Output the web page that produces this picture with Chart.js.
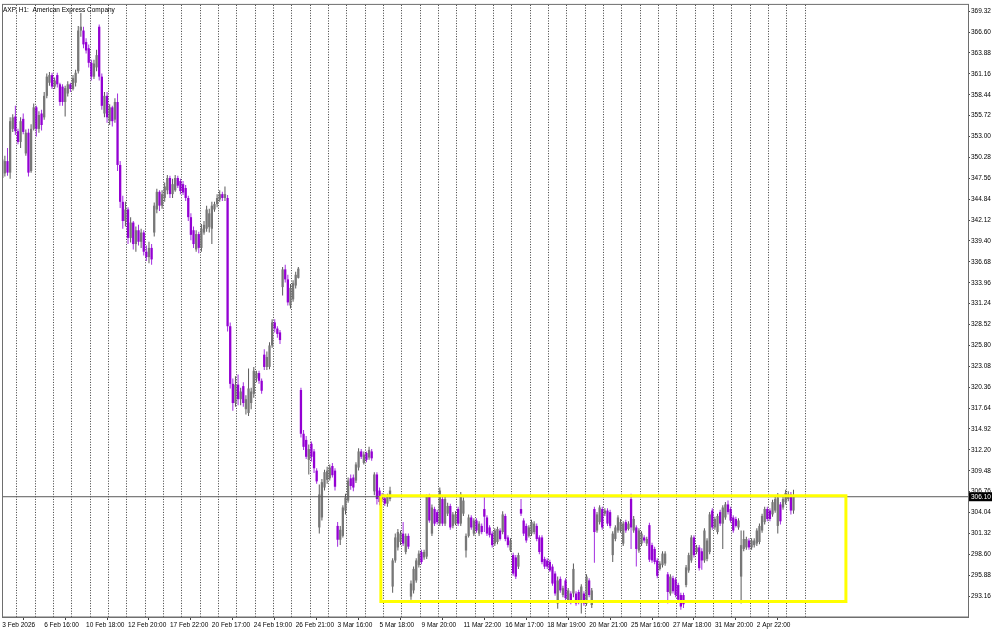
<!DOCTYPE html>
<html><head><meta charset="utf-8">
<script src="https://cdn.jsdelivr.net/npm/chart.js@4.4.1/dist/chart.umd.min.js"></script>
<style>html,body{margin:0;padding:0;background:#fff;overflow:hidden}canvas{display:block}</style>
</head><body>
<canvas id="c" width="1000" height="631"></canvas>
<script>
// ---- DATA (AXP, H1) ----
const opens = [
347.6,348.2,349.8,348.3,354.0,355.6,353.7,352.3,355.3,350.8,
353.5,348.5,354.0,356.8,354.0,356.0,355.5,358.3,360.0,361.0,
359.5,361.0,359.8,359.5,357.5,358.6,359.8,359.2,360.0,361.5,
366.8,366.8,365.3,364.5,362.6,360.8,362.0,367.3,360.8,356.0,
358.3,355.0,356.8,355.2,357.5,349.3,344.5,342.0,343.5,339.8,
341.8,339.0,340.8,339.3,340.5,338.0,337.3,338.5,340.5,343.5,
345.8,344.0,345.0,346.0,347.6,345.5,346.0,347.6,347.2,346.8,
346.3,345.0,342.5,340.8,338.3,340.3,338.5,340.5,341.0,341.2,
341.0,343.5,344.2,344.8,345.5,345.0,345.0,328.3,320.8,318.3,
320.7,318.8,320.5,317.5,317.0,318.3,319.5,321.5,322.2,321.2,
324.6,323.0,323.0,325.8,328.8,328.0,327.5,333.4,335.7,334.4,
331.0,331.8,333.6,334.6,320.0,314.3,313.5,310.9,313.0,312.0,
309.5,302.1,303.4,307.3,308.3,308.5,310.1,309.5,302.3,300.5,
301.0,304.3,305.6,308.5,308.6,308.2,309.9,312.0,310.5,311.8,
311.2,312.0,306.8,309.0,306.9,306.3,305.9,305.2,305.8,294.4,
297.8,299.5,300.2,301.3,298.9,301.0,293.1,293.9,295.2,297.2,
298.9,298.2,298.3,306.2,301.3,304.5,304.1,302.6,305.8,302.6,
303.9,304.9,302.3,302.6,304.5,302.6,303.9,299.1,301.0,303.4,
301.3,303.0,301.3,302.3,304.5,303.4,302.1,301.3,300.0,300.2,
301.7,301.5,303.6,300.8,299.1,298.5,298.2,297.0,304.5,303.0,
302.3,301.0,301.3,301.5,302.3,300.8,300.8,298.0,297.8,297.6,
297.0,296.1,292.2,295.4,293.3,295.2,292.6,293.5,293.5,293.5,
293.7,292.5,293.5,292.2,295.2,292.0,304.5,301.7,302.8,304.5,
303.9,304.3,304.1,298.5,300.6,301.7,301.7,300.0,302.8,301.9,
305.8,301.7,302.1,299.1,300.0,300.8,300.0,302.4,299.8,299.3,
297.8,296.7,297.2,297.4,296.0,293.5,295.5,295.3,294.6,293.3,
293.3,294.6,296.5,297.8,300.8,298.9,299.5,299.0,297.8,298.0,
298.9,304.3,302.1,301.5,304.1,302.6,303.4,305.1,304.5,303.4,
303.2,302.1,295.7,299.3,299.5,300.4,299.5,299.8,300.0,300.2,
301.7,302.8,304.5,304.3,303.8,304.3,302.3,305.1,304.7,305.4,
305.8,306.4,304.3
];
const highs = [
350.8,350.5,351.5,355.5,355.9,357.0,354.0,355.5,356.0,353.9,
354.0,354.6,357.3,357.0,356.3,356.5,358.8,361.2,361.4,361.3,
360.7,361.3,360.0,359.8,359.6,360.2,360.0,361.0,361.7,367.4,
369.1,367.3,365.8,365.0,363.0,363.0,364.3,367.6,361.2,358.8,
358.8,357.2,357.0,358.0,358.6,349.8,345.3,344.5,343.8,342.5,
342.0,341.3,341.5,341.0,340.8,338.8,339.3,339.0,344.4,346.2,
346.0,346.0,347.0,348.0,347.9,347.5,348.0,347.9,347.5,347.2,
346.7,345.3,343.0,341.3,340.8,340.6,341.6,342.0,344.0,343.6,
344.5,344.5,345.5,346.0,345.8,346.5,345.4,328.8,321.5,321.8,
322.0,320.3,321.0,319.3,322.8,320.3,323.0,322.5,322.5,321.5,
325.3,325.0,326.2,329.2,329.2,328.3,327.8,336.0,336.3,335.0,
333.8,334.3,335.4,336.0,320.3,314.8,314.0,312.9,313.3,312.3,
309.8,307.7,308.4,309.6,310.0,310.3,310.5,309.8,302.8,302.3,
305.0,306.5,308.6,309.0,309.0,310.6,312.4,312.3,312.0,312.0,
312.6,312.3,309.3,309.3,307.3,306.6,306.4,306.5,307.4,298.1,
301.3,301.9,301.7,302.8,301.3,301.3,295.2,297.0,298.1,299.1,
299.2,299.2,306.4,306.5,305.1,304.8,304.4,307.3,306.1,306.1,
305.3,305.2,304.1,304.2,304.8,306.7,306.0,301.3,303.8,303.7,
303.3,303.3,302.9,302.6,306.0,303.7,302.4,301.6,302.0,302.2,
302.0,304.2,303.9,301.1,300.7,298.8,298.5,298.8,305.8,303.3,
302.6,302.4,303.1,302.9,302.6,301.1,301.1,298.3,298.1,297.9,
297.3,296.4,295.7,295.7,294.5,295.5,294.2,293.8,297.4,293.8,
294.0,294.7,293.8,296.0,295.5,294.2,304.8,304.1,305.0,304.8,
304.6,304.6,304.4,301.6,302.4,303.7,303.2,302.9,303.1,302.9,
306.5,303.6,302.4,302.0,301.6,301.1,300.9,302.7,300.1,299.6,
298.1,297.7,299.0,299.0,296.3,296.0,295.8,295.6,294.9,293.6,
293.6,297.2,298.8,301.1,301.1,299.8,299.8,299.4,302.0,300.7,
304.1,304.6,303.5,303.9,304.4,305.0,305.4,305.6,304.8,303.7,
303.5,303.3,301.7,301.7,300.9,300.7,300.7,300.7,302.0,302.6,
303.9,304.8,304.8,304.6,305.7,306.1,306.6,305.4,306.1,307.0,
306.8,306.7,307.0
];
const lows = [
347.2,347.8,347.9,347.5,353.6,353.2,352.0,351.5,353.3,350.5,
347.8,348.3,353.8,353.0,353.5,353.8,355.2,358.0,359.6,359.2,
359.2,359.4,357.0,357.0,355.6,358.2,358.8,359.0,359.5,361.2,
366.0,364.5,363.8,362.0,360.3,360.5,361.5,360.3,356.5,355.5,
354.8,354.5,354.3,354.8,348.5,343.7,341.0,341.3,339.0,339.2,
338.3,338.0,338.8,338.5,337.5,336.8,336.5,336.3,340.0,343.0,
343.3,343.6,344.5,345.5,345.0,345.0,345.8,346.3,345.5,345.4,
344.6,342.0,339.5,338.5,338.0,337.8,338.0,340.2,340.6,340.5,
339.0,343.2,343.8,344.5,344.6,344.6,327.6,320.2,317.3,317.8,
318.0,318.0,317.8,316.8,316.6,317.5,319.0,321.0,320.8,319.5,
322.6,322.6,322.7,325.5,327.5,326.8,326.0,332.3,334.0,331.0,
330.6,331.5,333.2,334.5,313.8,312.2,311.0,309.0,310.7,309.2,
307.8,301.3,303.0,306.9,307.8,308.2,308.6,306.9,299.6,299.8,
300.8,303.8,305.3,307.0,306.8,307.9,309.5,311.0,310.3,310.6,
310.9,310.8,306.3,305.1,305.0,305.4,304.9,304.8,305.5,293.6,
297.5,299.1,299.8,299.7,298.6,299.3,292.7,293.5,294.9,296.9,
297.3,297.9,298.0,302.7,301.0,302.3,302.5,302.3,302.3,302.3,
303.6,301.8,302.0,302.4,302.3,302.3,303.6,298.2,300.8,301.8,
301.0,301.4,301.0,301.2,301.5,301.0,300.8,299.5,299.7,299.9,
300.4,301.2,300.3,299.5,298.9,295.8,295.4,296.7,303.6,301.0,
300.1,300.8,301.0,301.2,300.3,298.6,297.3,296.7,296.7,296.3,
294.5,293.2,291.5,293.6,293.0,292.6,292.3,292.1,293.0,291.9,
292.1,290.9,291.9,291.9,293.0,291.6,297.5,301.4,302.5,301.8,
303.6,302.3,302.0,297.6,300.3,301.4,301.4,299.7,301.4,301.7,
299.3,301.4,297.0,298.8,299.7,300.1,299.7,297.6,297.5,297.3,
295.5,296.5,296.9,297.1,292.2,293.2,293.5,293.0,292.4,291.4,
291.6,294.3,296.2,297.5,298.2,298.6,296.5,296.6,297.5,297.7,
298.6,301.8,301.8,301.2,302.3,299.3,303.1,303.8,302.7,301.4,
302.1,301.8,292.2,299.0,299.2,299.2,299.2,299.5,299.7,299.9,
301.4,302.5,302.9,302.9,303.5,304.0,301.3,302.5,304.4,305.1,
305.5,303.8,303.9
];
const closes = [
350.0,349.8,348.3,355.0,355.5,353.7,352.3,355.0,353.6,353.5,
348.3,354.0,356.8,354.0,355.8,354.5,358.3,360.8,361.0,359.5,
360.3,359.8,357.5,357.5,359.3,359.8,359.2,360.6,361.3,366.8,
367.3,365.0,364.2,362.6,360.8,362.5,363.6,360.8,357.0,358.3,
355.5,356.8,355.0,357.5,349.3,344.5,342.0,343.5,339.8,341.8,
339.0,340.8,339.3,340.5,338.0,337.3,338.5,337.0,344.0,345.8,
344.0,345.5,346.5,347.6,345.5,346.8,347.6,346.6,345.9,345.7,
345.0,342.5,340.2,339.0,340.3,338.5,341.0,341.5,343.5,343.0,
344.0,344.2,345.0,345.5,345.0,345.5,328.3,320.8,318.3,320.7,
318.8,319.8,318.3,318.8,320.2,319.8,322.5,322.2,321.2,319.9,
323.0,324.3,325.8,328.8,328.0,327.3,326.5,335.7,334.4,331.4,
333.3,333.9,335.0,335.8,314.3,312.6,311.3,312.3,311.3,309.8,
308.1,306.4,308.0,309.3,309.5,309.9,308.9,307.4,300.5,301.8,
304.7,306.0,308.2,307.5,307.3,310.3,312.0,311.3,311.6,310.9,
312.2,311.1,309.0,305.8,305.4,305.8,305.2,306.2,306.9,297.8,
300.8,301.5,301.3,300.0,301.0,299.6,294.8,296.7,297.8,298.7,
297.6,298.9,306.2,303.0,304.7,302.6,302.8,306.9,302.6,305.8,
304.9,302.1,303.8,303.8,302.6,306.4,305.6,301.0,303.4,302.1,
303.0,301.7,302.6,301.5,303.5,301.3,301.1,299.8,301.7,301.9,
300.6,303.8,300.6,299.8,300.4,296.1,295.7,298.5,303.9,301.3,
300.4,302.1,302.8,302.6,300.6,298.9,297.6,297.0,297.0,296.5,
294.8,293.5,295.2,293.9,294.2,292.9,293.9,292.4,296.7,292.2,
292.4,294.4,292.2,295.7,293.3,293.9,301.5,303.8,304.7,302.1,
304.3,302.6,302.3,301.3,302.1,303.4,302.8,302.6,301.7,302.6,
302.1,303.2,299.3,301.7,301.3,300.4,300.6,297.9,297.8,297.6,
295.8,297.4,298.7,298.7,293.7,295.7,293.8,293.3,292.7,291.8,
292.1,296.9,298.5,300.8,298.5,299.5,296.8,297.8,301.7,300.4,
303.8,302.1,303.2,303.6,302.6,304.7,305.1,304.1,303.0,301.7,
302.3,303.0,299.8,300.6,300.6,299.5,300.4,300.4,301.7,302.3,
303.6,304.5,303.2,303.2,305.4,305.8,306.0,302.9,305.8,306.6,
306.4,304.3,306.1
];
const timeLabelBars = [0,16,32,48,64,80,96,112,128,144,160,176,192,208,224,240,256,272,288];
const timeLabels = ['3 Feb 2026','6 Feb 16:00','10 Feb 18:00','12 Feb 20:00','17 Feb 22:00','20 Feb 17:00',
  '24 Feb 19:00','26 Feb 21:00','3 Mar 16:00','5 Mar 18:00','9 Mar 20:00','11 Mar 22:00','16 Mar 17:00',
  '18 Mar 19:00','20 Mar 21:00','25 Mar 16:00','27 Mar 18:00','31 Mar 20:00','2 Apr 22:00'];
const dayStartBars = [2,9,16,23,30,37,44,51,58,65,72,79,86,93,100,107,114,121,128,135,142,149,156,163,170,177,184,191,198,205,212,219,226,233,240,247,254,261,268,275,282,289,296,303];
const priceTicks = [293.16,295.88,298.60,301.32,304.04,306.76,309.48,312.20,314.92,317.64,320.36,323.08,325.80,328.52,331.24,333.96,336.68,339.40,342.12,344.84,347.56,350.28,353.00,355.72,358.44,361.16,363.88,366.60,369.32];
const lastPrice = 306.10;
const zoneBars = [144.5, 322.0];
const zonePrices = [292.45, 306.23];
const titleText = 'AXP, H1:  American Express Company';

// ---- CHART ----
const FONT = "'Liberation Sans', 'DejaVu Sans', sans-serif";
const X_MIN = -0.1, X_MAX = 368.6, Y_MIN = 290.44, Y_MAX = 370.14;
const idx = opens.map((_, i) => i);
const isBull = idx.map(i => closes[i] >= opens[i]);
const bodyColors = idx.map(i => isBull[i] ? '#777777' : '#9400d3');
const wickColors = idx.map(i => isBull[i] ? '#5a5a5a' : '#a32ee0');

const overlay = {
  id: 'overlay',
  afterDraw(chart) {
    const {ctx, chartArea: a, scales} = chart;
    ctx.save();
    ctx.strokeStyle = '#6e6e6e';
    ctx.lineWidth = 1;
    ctx.strokeRect(a.left + 0.5, a.top - 0.5, a.right - a.left, a.bottom - a.top + 0.5);
    ctx.fillStyle = '#000';
    ctx.font = '6.5px ' + FONT;
    ctx.textBaseline = 'alphabetic';
    ctx.fillText(titleText, a.left + 1, a.top + 7);
    const py = scales.y.getPixelForValue(lastPrice);
    ctx.fillStyle = '#000';
    ctx.fillRect(a.right + 1, py - 4.5, 23, 9);
    ctx.fillStyle = '#fff';
    ctx.textBaseline = 'middle';
    ctx.fillText(lastPrice.toFixed(2), a.right + 3, py + 0.5);
    ctx.restore();
  }
};

new Chart(document.getElementById('c'), {
  type: 'bar',
  data: {
    datasets: [
      { type: 'bar', label: 'wick', data: idx.map(i => ({x: i, y: [lows[i], highs[i]]})),
        backgroundColor: wickColors, barThickness: 1, grouped: false, inflateAmount: 0, borderWidth: 0,
        xAxisID: 'x', yAxisID: 'y', order: 4 },
      { type: 'bar', label: 'body', data: idx.map(i => ({x: i, y: [opens[i], closes[i]]})),
        backgroundColor: bodyColors, barThickness: 2.3, minBarLength: 1, grouped: false, inflateAmount: 0, borderWidth: 0,
        xAxisID: 'x', yAxisID: 'y', order: 3 },
      { type: 'line', label: 'last', data: [{x: X_MIN, y: lastPrice}, {x: X_MAX, y: lastPrice}],
        borderColor: '#5a5a5a', borderWidth: 1, pointRadius: 0, xAxisID: 'x', yAxisID: 'y', order: 2 },
      { type: 'line', label: 'zone', data: [
          {x: zoneBars[0], y: zonePrices[1]}, {x: zoneBars[1], y: zonePrices[1]},
          {x: zoneBars[1], y: zonePrices[0]}, {x: zoneBars[0], y: zonePrices[0]},
          {x: zoneBars[0], y: zonePrices[1]}],
        borderColor: '#ffff00', borderWidth: 3, pointRadius: 0, tension: 0, fill: false,
        borderJoinStyle: 'miter', xAxisID: 'x', yAxisID: 'y', order: 1 }
    ]
  },
  options: {
    responsive: false, animation: false, devicePixelRatio: 1,
    layout: { padding: { left: 2, top: 1, right: 0, bottom: 0 } },
    plugins: { legend: { display: false }, tooltip: { enabled: false }, title: { display: false } },
    scales: {
      x: {
        type: 'linear', position: 'bottom', min: X_MIN, max: X_MAX, offset: false,
        afterBuildTicks: s => { s.ticks = timeLabelBars.map(v => ({value: v})); },
        afterFit: s => { s.height = 14; },
        grid: { drawOnChartArea: false, drawTicks: true, tickLength: 3, tickColor: '#444' },
        border: { display: true, color: '#6e6e6e', width: 1 },
        ticks: { autoSkip: false, maxRotation: 0, minRotation: 0, align: 'start', padding: 1,
          font: { family: FONT, size: 6.5 }, color: '#000', callback: (v, i) => timeLabels[i] }
      },
      xg: {
        type: 'linear', position: 'bottom', min: X_MIN, max: X_MAX, offset: false,
        afterBuildTicks: s => { s.ticks = dayStartBars.map(v => ({value: v})); },
        afterFit: s => { s.height = 0; },
        grid: { drawOnChartArea: true, drawTicks: false, color: '#3c3c3c', lineWidth: 1 },
        border: { display: false, dash: [1, 1.6] },
        ticks: { display: false }
      },
      y: {
        type: 'linear', position: 'right', min: Y_MIN, max: Y_MAX,
        afterBuildTicks: s => { s.ticks = priceTicks.map(v => ({value: v})); },
        afterFit: s => { s.width = 32; },
        grid: { drawOnChartArea: false, drawTicks: true, tickLength: 2, tickColor: '#444' },
        border: { display: true, color: '#6e6e6e', width: 1 },
        ticks: { padding: 1, font: { family: FONT, size: 6.5 }, color: '#000', callback: v => v.toFixed(2) }
      }
    }
  },
  plugins: [overlay]
});
</script>
</body></html>
